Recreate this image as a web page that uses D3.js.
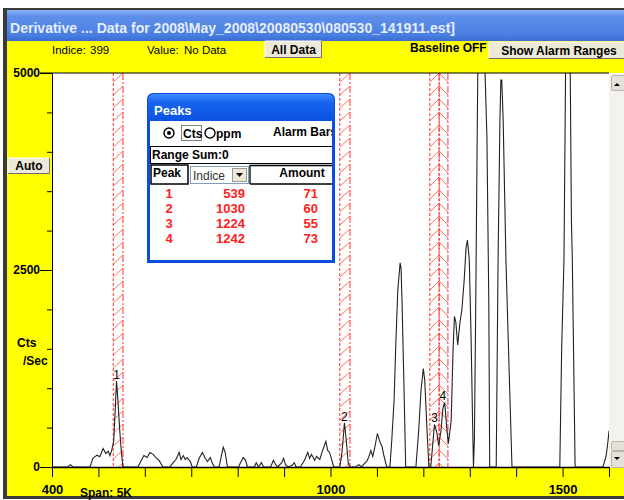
<!DOCTYPE html>
<meta charset="utf-8" />
<head>
  <script src="https://d3js.org/d3.v7.min.js"></script>
  <style>
    body { margin: 0; background: #fff; }
    text { font-family: "Liberation Sans", Arial, sans-serif; }
  </style>
</head>
<body>
  <div id="my_chart"></div>
<script>
  // trace: indice / counts per sec
  var traceIdx = [400,434,440,445,482,488,497,503,510,516,521,525,529,533,536,539,542,546,550,553,
    585,592,598,605,611,618,624,631,639,654,661,667,674,678,683,687,691,698,702,711,717,724,730,735,
    741,745,750,760,765,769,773,778,802,806,812,817,821,836,840,845,851,856,871,877,882,886,895,899,
    903,908,917,922,926,935,944,951,955,959,966,970,977,983,990,994,998,1003,1007,1020,1024,1027,
    1030,1034,1038,1041,1054,1061,1067,1071,1078,1082,1087,1091,1095,1101,1106,1111,1115,1121,1128,
    1132,1137,1141,1145,1150,1152,1154,1158,1162,1184,1190,1195,1200,1203,1208,1212,1216,1221,1224,
    1229,1233,1238,1242,1246,1251,1254,1260,1264,1267,1270,1274,1279,1283,1288,1292,1295,1299,1303,
    1306,1308,1310,1313,1316,1318,1331,1337,1341,1343,1357,1361,1365,1367,1369,1372,1378,1384,1391,
    1494,1498,1503,1507,1516,1519,1521,1527,1587,1594,1598,1600];
  var traceCts = [0,0,30,0,0,110,150,130,235,170,200,145,220,330,700,1090,850,460,150,0,
    0,80,145,120,185,160,120,80,0,0,55,95,185,95,145,95,120,70,0,0,110,185,110,70,
    120,55,0,0,145,250,185,0,0,55,120,85,0,0,55,0,55,0,0,85,30,0,55,110,
    30,0,20,55,0,0,85,185,110,160,85,135,95,210,325,210,185,85,0,0,150,340,
    560,340,60,0,0,30,0,30,70,120,210,135,235,425,325,260,145,0,0,
    340,850,1610,2250,2590,2520,2120,1100,0,0,460,970,1250,1100,460,0,0,340,540,
    440,270,460,740,820,460,300,590,1480,1910,1840,1550,1840,1990,2370,2780,2880,2630,1610,
    600,0,340,2120,4180,5400,5400,4180,2120,0,0,2620,4400,4910,4910,4400,2620,1400,0,
    0,1500,2630,5400,5400,3140,2620,0,0,145,340,460];

  // alarm ranges (indice)
  var bandLo = [532, 1020, 1214, 1234];
  var bandHi = [553, 1042, 1234, 1253];

  // peaks table
  var peakNo = [1, 2, 3, 4];
  var peakIdx = [539, 1030, 1224, 1242];
  var peakAmt = [71, 60, 55, 73];

  // axis ticks
  var xTicks = d3.range(400, 1601, 100);
  var xLabels = [400, 1000, 1500];
  var yMinor = d3.range(0, 5001, 500);
  var yMajor = [0, 2500, 5000];

  var titleText = "Derivative ... Data for 2008\\May_2008\\20080530\\080530_141911.est]";

  var W = 624, H = 500;
  var plot = { left: 52, top: 73, right: 609, bottom: 467 };
  var red = "#ff3030";

  var svg = d3.select("#my_chart").append("svg")
    .attr("width", W).attr("height", H);

  var defs = svg.append("defs");
  var tg = defs.append("linearGradient").attr("id", "titleGrad")
    .attr("x1", 0).attr("y1", 0).attr("x2", 0).attr("y2", 1);
  tg.append("stop").attr("offset", "0%").attr("stop-color", "#8cb2f4");
  tg.append("stop").attr("offset", "20%").attr("stop-color", "#5e90ea");
  tg.append("stop").attr("offset", "80%").attr("stop-color", "#4a7fe2");
  tg.append("stop").attr("offset", "100%").attr("stop-color", "#3a6cd2");
  var dg = defs.append("linearGradient").attr("id", "dlgGrad")
    .attr("x1", 0).attr("y1", 0).attr("x2", 0).attr("y2", 1);
  dg.append("stop").attr("offset", "0%").attr("stop-color", "#3f8cff");
  dg.append("stop").attr("offset", "30%").attr("stop-color", "#1864f0");
  dg.append("stop").attr("offset", "100%").attr("stop-color", "#0a52e0");
  defs.append("clipPath").attr("id", "plotClip").append("rect")
    .attr("x", plot.left).attr("y", plot.top)
    .attr("width", plot.right - plot.left).attr("height", plot.bottom - plot.top);
  defs.append("clipPath").attr("id", "dlgClip").append("rect")
    .attr("x", 150).attr("y", 121).attr("width", 182).attr("height", 139);

  // window frame
  svg.append("rect").attr("x", 3).attr("y", 8).attr("width", 640).attr("height", 491).attr("fill", "#3a3a3a");
  svg.append("rect").attr("x", 7).attr("y", 10).attr("width", 640).attr("height", 31).attr("fill", "url(#titleGrad)");
  svg.append("text").attr("x", 10).attr("y", 33)
    .attr("font-size", 14).attr("font-weight", "bold").attr("fill", "#e6edfb")
    .attr("textLength", 445).attr("lengthAdjust", "spacingAndGlyphs")
    .text(titleText);
  svg.append("rect").attr("x", 7).attr("y", 41).attr("width", 640).attr("height", 455).attr("fill", "#ffff00");

  // toolbar
  function label(x, y, txt, opts) {
    opts = opts || {};
    return svg.append("text").attr("x", x).attr("y", y)
      .attr("font-size", opts.size || 12)
      .attr("font-weight", opts.bold ? "bold" : "normal")
      .attr("text-anchor", opts.anchor || "start")
      .attr("fill", opts.fill || "#000")
      .text(txt);
  }
  function button(x, y, w, h, txt) {
    svg.append("rect").attr("x", x).attr("y", y).attr("width", w).attr("height", h)
      .attr("fill", "#ece9d8");
    svg.append("path").attr("d", "M" + x + "," + (y + h) + "V" + y + "H" + (x + w))
      .attr("fill", "none").attr("stroke", "#fff");
    svg.append("path").attr("d", "M" + x + "," + (y + h - 0.5) + "H" + (x + w - 0.5) + "V" + y)
      .attr("fill", "none").attr("stroke", "#6f6f6f");
    label(x + w / 2, y + h - 4, txt, { bold: true, anchor: "middle" });
  }
  label(52, 54, "Indice:", { size: 11.5 });
  label(90, 54, "399", { size: 11.5 });
  label(147, 54, "Value:", { size: 11.5 });
  label(184, 54, "No Data", { size: 11.5 });
  button(265, 41, 57, 17, "All Data");
  label(410, 52, "Baseline OFF", { bold: true });
  button(489, 42, 140, 17, "Show Alarm Ranges");
  button(8, 158, 42, 16, "Auto");
  label(17, 347, "Cts", { bold: true });
  label(23, 365, "/Sec", { bold: true });
  label(80, 497, "Span: 5K", { bold: true });

  // plot area
  svg.append("rect").attr("x", plot.left).attr("y", plot.top)
    .attr("width", plot.right - plot.left).attr("height", plot.bottom - plot.top)
    .attr("fill", "#fff");

  var x = d3.scaleLinear().domain([400, 1600]).range([plot.left, plot.right]);
  var y = d3.scaleLinear().domain([0, 5000]).range([plot.bottom, plot.top]);

  // alarm bars
  var bands = svg.append("g").attr("clip-path", "url(#plotClip)");
  bandLo.forEach(function (lo, i) {
    var x0 = x(lo), x1 = x(bandHi[i]);
    var mirror = i > 0 && bandLo[i] <= bandHi[i - 1];
    var g = bands.append("g");
    d3.range(plot.top, plot.bottom, 13).forEach(function (yy) {
      var d = mirror
        ? "M" + x0 + "," + yy + "L" + x1 + "," + (yy + 9)
        : "M" + x0 + "," + (yy + 9) + "L" + x1 + "," + yy;
      g.append("path").attr("d", d).attr("stroke", "#ff7060").attr("fill", "none");
    });
    g.append("line").attr("x1", x0).attr("x2", x0).attr("y1", plot.top).attr("y2", plot.bottom)
      .attr("stroke", red).attr("stroke-dasharray", "3,2");
    g.append("line").attr("x1", x1).attr("x2", x1).attr("y1", plot.top).attr("y2", plot.bottom)
      .attr("stroke", red).attr("stroke-dasharray", "7,2,2,2");
  });

  // trace
  var pts = traceIdx.map(function (d, i) { return [d, traceCts[i]]; });
  svg.append("path").datum(pts)
    .attr("clip-path", "url(#plotClip)")
    .attr("d", d3.line().x(function (d) { return x(d[0]); }).y(function (d) { return y(d[1]); }))
    .attr("fill", "none").attr("stroke", "#222").attr("stroke-width", 1.1);

  // peak numbers above each peak
  peakIdx.forEach(function (p, i) {
    var top = d3.max(pts.filter(function (d) { return Math.abs(d[0] - p) <= 4; }), function (d) { return d[1]; });
    label(x(p), y(top) - 2, peakNo[i], { anchor: "middle" });
  });

  // axes
  function styleAxis(g) {
    g.attr("font-family", "Liberation Sans, Arial, sans-serif").attr("font-weight", "bold");
    g.selectAll("line,path").attr("stroke", "#000");
    g.selectAll("text").attr("fill", "#000");
  }
  svg.append("g").attr("transform", "translate(" + plot.left + ",0)")
    .call(d3.axisLeft(y).tickValues(yMinor).tickSize(5).tickSizeOuter(0).tickFormat(""))
    .call(styleAxis);
  svg.append("g").attr("transform", "translate(" + plot.left + ",0)")
    .call(d3.axisLeft(y).tickValues(yMajor).tickSize(12).tickPadding(0).tickSizeOuter(0).tickFormat(d3.format("d")))
    .call(styleAxis)
    .attr("font-size", 12);
  svg.append("g").attr("transform", "translate(0," + plot.bottom + ")")
    .call(d3.axisBottom(x).tickValues(xTicks).tickSize(10).tickPadding(8).tickSizeOuter(0)
      .tickFormat(function (d) { return xLabels.indexOf(d) >= 0 ? d : ""; }))
    .call(styleAxis)
    .attr("font-size", 13)
    .select(".domain").attr("stroke-width", 1.6);
  svg.append("line").attr("x1", 40).attr("x2", plot.right).attr("y1", plot.top).attr("y2", plot.top)
    .attr("stroke", "#000").attr("stroke-width", 1.2);

  // scrollbar
  svg.append("rect").attr("x", 609).attr("y", 73).attr("width", 20).attr("height", 394).attr("fill", "#f3f2ec");
  [[75, 15], [441, 9], [451, 16]].forEach(function (b) {
    svg.append("rect").attr("x", 611.5).attr("y", b[0] + 0.5).attr("width", 15).attr("height", b[1])
      .attr("fill", "#e4e2d8").attr("stroke", "#b8b6ac").attr("rx", 1.5);
  });
  svg.append("path").attr("d", "M614,86l3,-3l3,3z").attr("fill", "#000");
  svg.append("path").attr("d", "M614,457l3,3l3,-3z").attr("fill", "#000");

  // Peaks dialog
  var dlg = svg.append("g");
  dlg.append("path").attr("d", "M147,263V99a6,6 0 0 1 6,-6H329a6,6 0 0 1 6,6V263Z").attr("fill", "#0a4fe0");
  dlg.append("path").attr("d", "M148,121V100a6,6 0 0 1 6,-6H328a6,6 0 0 1 6,6V121Z").attr("fill", "url(#dlgGrad)");
  dlg.append("text").attr("x", 154).attr("y", 115).attr("font-size", 13).attr("font-weight", "bold")
    .attr("fill", "#fff").text("Peaks");
  dlg.append("rect").attr("x", 150).attr("y", 121).attr("width", 182).attr("height", 139).attr("fill", "#fff");

  var body = dlg.append("g").attr("clip-path", "url(#dlgClip)");
  function dtext(x, y, txt, opts) {
    opts = opts || {};
    return body.append("text").attr("x", x).attr("y", y)
      .attr("font-size", opts.size || 12)
      .attr("font-weight", opts.bold === false ? "normal" : "bold")
      .attr("text-anchor", opts.anchor || "start")
      .attr("fill", opts.fill || "#000").text(txt);
  }
  body.append("circle").attr("cx", 169).attr("cy", 133).attr("r", 5).attr("fill", "#fff").attr("stroke", "#000").attr("stroke-width", 1.4);
  body.append("circle").attr("cx", 169).attr("cy", 133).attr("r", 2).attr("fill", "#000");
  body.append("rect").attr("x", 181.5).attr("y", 125.5).attr("width", 20).attr("height", 15)
    .attr("fill", "none").attr("stroke", "#000").attr("stroke-dasharray", "1,1");
  dtext(183, 138, "Cts");
  body.append("circle").attr("cx", 210).attr("cy", 133).attr("r", 5).attr("fill", "#fff").attr("stroke", "#000").attr("stroke-width", 1.4);
  dtext(216, 138, "ppm");
  dtext(273, 136, "Alarm Bars");
  body.append("rect").attr("x", 150.5).attr("y", 146.5).attr("width", 183).attr("height", 17)
    .attr("fill", "none").attr("stroke", "#000");
  dtext(152, 159, "Range Sum:0");
  body.append("rect").attr("x", 151).attr("y", 165).attr("width", 37).attr("height", 19)
    .attr("fill", "none").attr("stroke", "#000").attr("stroke-width", 1.5);
  dtext(153, 177, "Peak");
  body.append("rect").attr("x", 190.5).attr("y", 166.5).attr("width", 58).attr("height", 17)
    .attr("fill", "#fff").attr("stroke", "#7f9db9");
  dtext(193, 180, "Indice", { bold: false, fill: "#333" });
  body.append("rect").attr("x", 232.5).attr("y", 168.5).attr("width", 14).attr("height", 13)
    .attr("fill", "#ece9d8").attr("stroke", "#9a9a9a");
  body.append("path").attr("d", "M236,173h7l-3.5,4z").attr("fill", "#000");
  body.append("path").attr("d", "M250,165.5H334M250,184H334M250,165V184")
    .attr("stroke", "#000").attr("stroke-width", 1.3).attr("fill", "none");
  dtext(302, 177, "Amount", { anchor: "middle" });

  peakNo.forEach(function (n, i) {
    var yy = 198 + i * 15;
    dtext(169, yy, n, { size: 13, anchor: "middle", fill: "#ff2020" });
    dtext(245, yy, peakIdx[i], { size: 13, anchor: "end", fill: "#ff2020" });
    dtext(318, yy, peakAmt[i], { size: 13, anchor: "end", fill: "#ff2020" });
  });
</script>
</body>
